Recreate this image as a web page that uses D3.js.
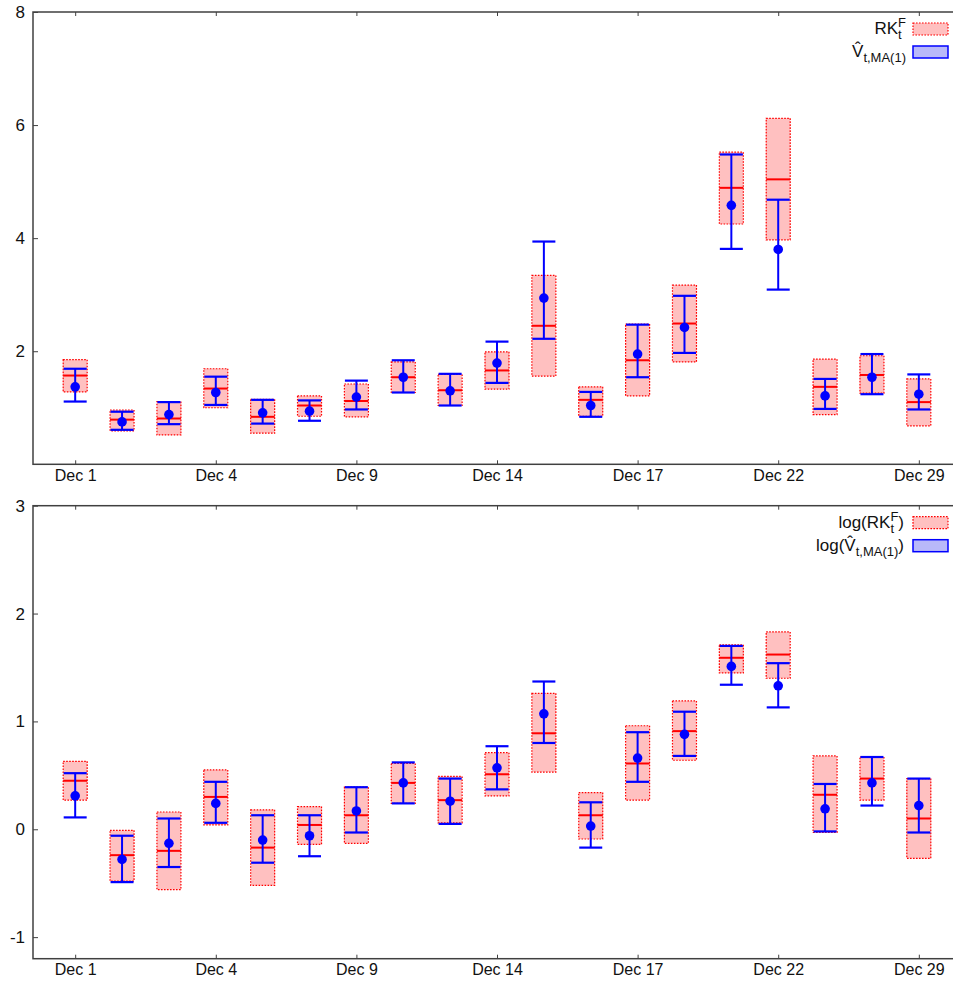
<!DOCTYPE html>
<html>
<head>
<meta charset="utf-8">
<script src="https://cdn.jsdelivr.net/npm/d3@7"></script>
<style>
  html, body { margin: 0; padding: 0; background: #fff; }
  svg text { font-family: "Liberation Sans", Arial, Helvetica, sans-serif; fill: #111; }
</style>
</head>
<body>
<svg id="chart" width="953" height="983"></svg>
<script>
// Trading days on the x axis (one position per day) and the labelled ones
const dayCount = 19;
const tickIndex = [0, 3, 6, 9, 12, 15, 18];
const tickLabels = ["Dec 1", "Dec 4", "Dec 9", "Dec 14", "Dec 17", "Dec 22", "Dec 29"];

// Realized kernel RK_t^F: point estimate and confidence band
const rkMid = [1.57, 0.79, 0.81, 1.34, 0.84, 1.04, 1.12, 1.54, 1.31, 1.66, 2.45, 1.14, 1.84, 2.49, 4.89, 5.04, 1.37, 1.58, 1.10];
const rkLo  = [1.28, 0.59, 0.52, 1.00, 0.55, 0.85, 0.84, 1.27, 1.04, 1.33, 1.56, 0.85, 1.21, 1.81, 4.25, 3.97, 0.88, 1.26, 0.68];
const rkHi  = [1.85, 0.96, 1.11, 1.69, 1.15, 1.21, 1.42, 1.81, 1.59, 1.99, 3.34, 1.37, 2.48, 3.17, 5.52, 6.12, 1.86, 1.92, 1.51];

// MA(1) estimator V_hat: point estimate and confidence band
const vMid = [1.37, 0.75, 0.88, 1.27, 0.91, 0.94, 1.19, 1.54, 1.30, 1.79, 2.94, 1.04, 1.95, 2.42, 4.58, 3.80, 1.21, 1.54, 1.24];
const vLo  = [1.11, 0.61, 0.71, 1.05, 0.72, 0.77, 0.97, 1.27, 1.04, 1.44, 2.22, 0.84, 1.54, 1.97, 3.81, 3.09, 0.98, 1.24, 0.97];
const vHi  = [1.69, 0.93, 1.10, 1.55, 1.14, 1.13, 1.48, 1.84, 1.60, 2.17, 3.94, 1.28, 2.47, 2.98, 5.48, 4.68, 1.51, 1.95, 1.59];

// Same quantities on the log scale
const logRkMid = [0.45, -0.24, -0.20, 0.30, -0.17, 0.04, 0.13, 0.43, 0.27, 0.51, 0.89, 0.13, 0.61, 0.91, 1.59, 1.62, 0.32, 0.47, 0.10];
const logRkLo  = [0.27, -0.48, -0.56, 0.04, -0.52, -0.14, -0.13, 0.24, 0.06, 0.31, 0.53, -0.09, 0.27, 0.64, 1.45, 1.40, -0.03, 0.27, -0.27];
const logRkHi  = [0.63, -0.01, 0.16, 0.55, 0.18, 0.21, 0.39, 0.61, 0.49, 0.71, 1.26, 0.34, 0.96, 1.19, 1.71, 1.83, 0.68, 0.67, 0.47];
const logVMid  = [0.31, -0.28, -0.13, 0.24, -0.10, -0.06, 0.17, 0.43, 0.26, 0.57, 1.07, 0.03, 0.66, 0.88, 1.51, 1.33, 0.19, 0.43, 0.22];
const logVLo   = [0.11, -0.49, -0.35, 0.06, -0.31, -0.25, -0.03, 0.24, 0.05, 0.37, 0.80, -0.17, 0.44, 0.68, 1.34, 1.13, -0.02, 0.22, -0.03];
const logVHi   = [0.52, -0.06, 0.10, 0.44, 0.13, 0.13, 0.39, 0.62, 0.47, 0.77, 1.37, 0.25, 0.90, 1.09, 1.70, 1.54, 0.42, 0.67, 0.47];

const topTicks = [2, 4, 6, 8];
const bottomTicks = [-1, 0, 1, 2, 3];

const svg = d3.select("#chart");
const RED = "#ff0000", BLUE = "#0000ff", PINK = "#ffc0c0", LILAC = "#b9b9f9", FRAME = "#404040";
const FONT = '"Liberation Sans", Arial, sans-serif';

const x = d3.scaleLinear().domain([-0.9, dayCount - 0.1]).range([33, 961]);
const boxW = 24;

// Legend label: main text, then a stacked subscript/superscript, then an optional tail
function legendLabel(g, right, baseline, spec) {
  const t = g.append("text").attr("y", baseline).attr("font-size", 17).style("font-family", FONT);
  let cx = 0;
  const main = t.append("tspan").attr("x", 0).text(spec.head);
  cx = main.node().getComputedTextLength();
  let endX = cx;
  if (spec.sub) {
    const s = t.append("tspan").attr("x", cx).attr("y", baseline + 5).attr("font-size", 13).text(spec.sub);
    endX = Math.max(endX, cx + s.node().getComputedTextLength());
  }
  if (spec.sup) {
    const s = t.append("tspan").attr("x", cx).attr("y", baseline - 7).attr("font-size", 13).text(spec.sup);
    endX = Math.max(endX, cx + s.node().getComputedTextLength());
  }
  if (spec.tail) {
    const s = t.append("tspan").attr("x", endX).attr("y", baseline).text(spec.tail);
    endX += s.node().getComputedTextLength();
  }
  t.attr("transform", `translate(${right - endX},0)`);
}

function panel(opts) {
  const { top, bottom, yDomain, yTicks, rk, v, legend } = opts;
  const y = d3.scaleLinear().domain(yDomain).range([bottom, top]);
  const g = svg.append("g");
  const idx = d3.range(dayCount);

  // Confidence boxes of the realized kernel
  g.selectAll(".rkbox").data(idx).join("rect")
    .attr("x", i => x(i) - boxW / 2)
    .attr("y", i => y(rk.hi[i]))
    .attr("width", boxW)
    .attr("height", i => y(rk.lo[i]) - y(rk.hi[i]))
    .attr("fill", PINK)
    .attr("stroke", RED)
    .attr("stroke-width", 1.2)
    .attr("stroke-dasharray", "1.6,1.4");

  // Point estimate of the realized kernel
  g.selectAll(".rkmid").data(idx).join("line")
    .attr("x1", i => x(i) - boxW / 2).attr("x2", i => x(i) + boxW / 2)
    .attr("y1", i => y(rk.mid[i])).attr("y2", i => y(rk.mid[i]))
    .attr("stroke", RED).attr("stroke-width", 2);

  // Error bars of the MA(1) estimator
  g.selectAll(".vstem").data(idx).join("line")
    .attr("x1", i => x(i)).attr("x2", i => x(i))
    .attr("y1", i => y(v.lo[i])).attr("y2", i => y(v.hi[i]))
    .attr("stroke", BLUE).attr("stroke-width", 2);
  ["lo", "hi"].forEach(k => {
    g.selectAll(".vcap" + k).data(idx).join("line")
      .attr("x1", i => x(i) - boxW / 2 + 0.5).attr("x2", i => x(i) + boxW / 2 - 0.5)
      .attr("y1", i => y(v[k][i])).attr("y2", i => y(v[k][i]))
      .attr("stroke", BLUE).attr("stroke-width", 2.2);
  });
  g.selectAll(".vdot").data(idx).join("circle")
    .attr("cx", i => x(i)).attr("cy", i => y(v.mid[i]))
    .attr("r", 4.8).attr("fill", BLUE);

  // Frame
  const x0 = x.range()[0], x1 = x.range()[1];
  g.append("rect")
    .attr("x", x0).attr("y", top).attr("width", x1 - x0).attr("height", bottom - top)
    .attr("fill", "none").attr("stroke", FRAME).attr("stroke-width", 1.5);

  // Y ticks (inward) and labels
  const yAxis = d3.axisLeft(y).tickValues(yTicks).tickFormat(d => String(d))
    .tickSizeInner(-5).tickSizeOuter(0).tickPadding(8);
  const ya = g.append("g").attr("transform", `translate(${x0},0)`).call(yAxis);
  ya.select(".domain").remove();
  ya.selectAll(".tick line").attr("stroke", FRAME).attr("stroke-width", 1);
  ya.selectAll(".tick text").attr("font-size", 17).attr("fill", "#111").style("font-family", FONT);

  // X ticks (inward at bottom and top) and labels
  const xAxis = d3.axisBottom(x).tickValues(tickIndex)
    .tickFormat((d, k) => tickLabels[k]).tickSizeInner(-4).tickSizeOuter(0).tickPadding(5);
  const xa = g.append("g").attr("transform", `translate(0,${bottom})`).call(xAxis);
  xa.select(".domain").remove();
  xa.selectAll(".tick line").attr("stroke", FRAME).attr("stroke-width", 1);
  xa.selectAll(".tick text").attr("font-size", 16).attr("fill", "#111").style("font-family", FONT);
  const xt = g.append("g").attr("transform", `translate(0,${top})`)
    .call(d3.axisTop(x).tickValues(tickIndex).tickFormat("").tickSizeInner(-4).tickSizeOuter(0));
  xt.select(".domain").remove();
  xt.selectAll(".tick line").attr("stroke", FRAME).attr("stroke-width", 1);

  // Legend
  const lg = g.append("g");
  legend.forEach((item, k) => {
    const cy = top + 17 + k * 23;
    lg.append("rect")
      .attr("x", 913).attr("y", cy - 6).attr("width", 35).attr("height", 12)
      .attr("fill", item.fill).attr("stroke", item.stroke)
      .attr("stroke-width", item.dash ? 1.2 : 1.5)
      .attr("stroke-dasharray", item.dash ? "1.6,1.4" : null);
    legendLabel(lg, item.right, cy + 5, item.label);
  });
}

panel({
  top: 12, bottom: 464.3, yDomain: [0, 8], yTicks: topTicks,
  rk: { lo: rkLo, mid: rkMid, hi: rkHi },
  v: { lo: vLo, mid: vMid, hi: vHi },
  legend: [
    { fill: PINK, stroke: RED, dash: true, right: 906, label: { head: "RK", sub: "t", sup: "F" } },
    { fill: LILAC, stroke: BLUE, dash: false, right: 906, label: { head: "V\u0302", sub: "t,MA(1)" } }
  ]
});

panel({
  top: 505.7, bottom: 958.7, yDomain: [-1.2, 3], yTicks: bottomTicks,
  rk: { lo: logRkLo, mid: logRkMid, hi: logRkHi },
  v: { lo: logVLo, mid: logVMid, hi: logVHi },
  legend: [
    { fill: PINK, stroke: RED, dash: true, right: 904, label: { head: "log(RK", sub: "t", sup: "F", tail: ")" } },
    { fill: LILAC, stroke: BLUE, dash: false, right: 904, label: { head: "log(V\u0302", sub: "t,MA(1)", tail: ")" } }
  ]
});
</script>
</body>
</html>
